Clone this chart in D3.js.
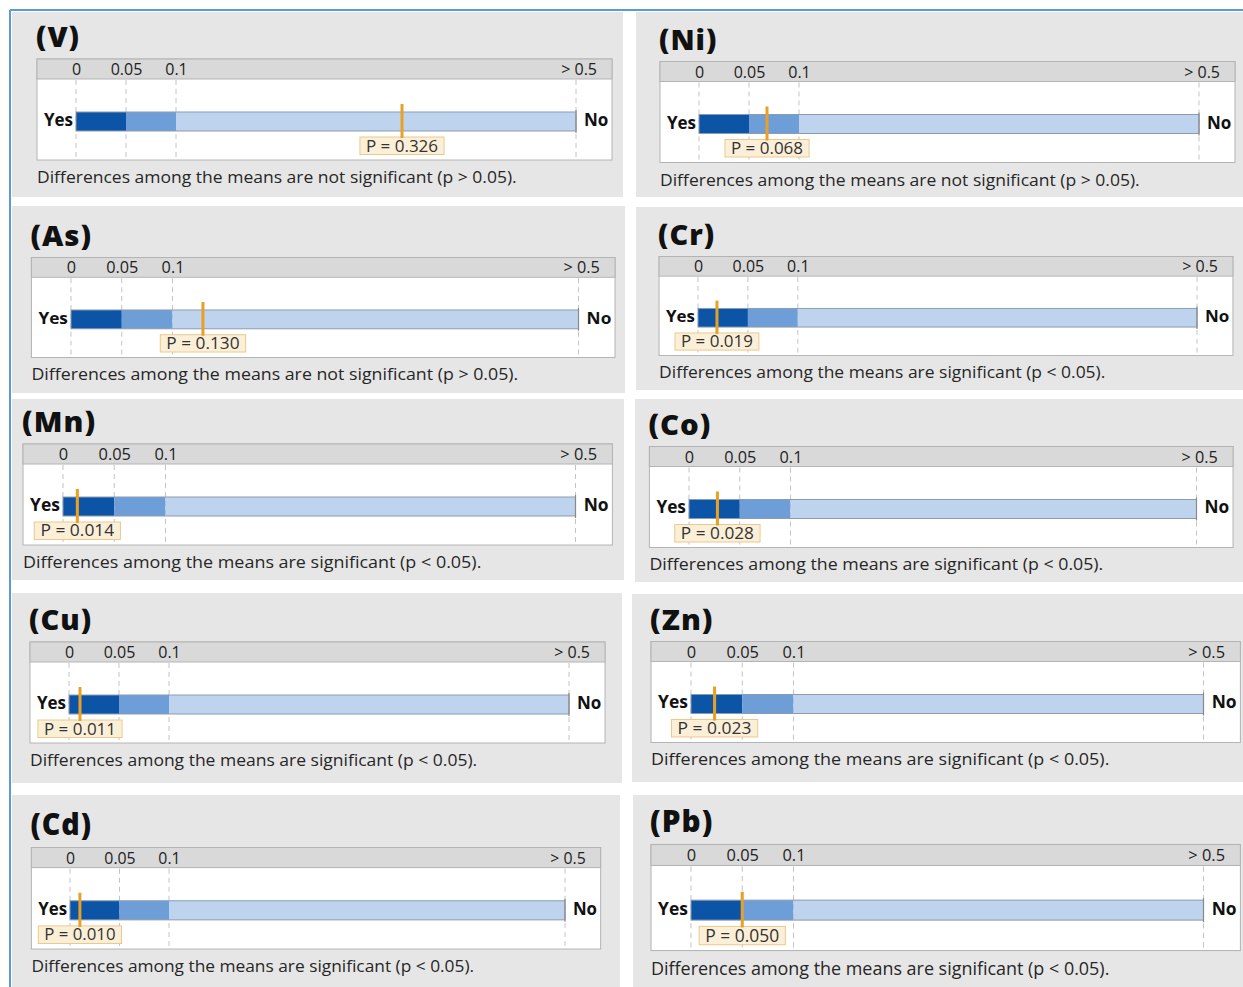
<!DOCTYPE html>
<html>
<head>
<meta charset="utf-8">
<script src="https://cdn.jsdelivr.net/npm/d3@7"></script>
<style>
  body { margin: 0; background: #fff; }
  svg { display: block; }
  text { font-family: 'Open Sans', 'Noto Sans', sans-serif; }
</style>
</head>
<body>
<svg id="chart" width="1243" height="987"></svg>
<script>
// ---- data ----
const elements = ["V", "Ni", "As", "Cr", "Mn", "Co", "Cu", "Zn", "Cd", "Pb"];
const pValues  = [0.326, 0.068, 0.130, 0.019, 0.014, 0.028, 0.011, 0.023, 0.010, 0.050];
const verdicts = [
  "not significant (p > 0.05)", "not significant (p > 0.05)",
  "not significant (p > 0.05)", "significant (p < 0.05)",
  "significant (p < 0.05)",     "significant (p < 0.05)",
  "significant (p < 0.05)",     "significant (p < 0.05)",
  "significant (p < 0.05)",     "significant (p < 0.05)"
];
const tickValues = [0, 0.05, 0.1];
const tickLabels = ["0", "0.05", "0.1"];
const scaleMax   = 0.5;
const maxLabel   = "> 0.5";
const zoneEdges  = [0, 0.05, 0.1, 0.5];
const yesLabel = "Yes", noLabel = "No";

// ---- layout ----
// grey panel backgrounds: x, y, width, height
const panelBoxes = [
  [12, 12, 611, 185], [636, 12, 607, 185],
  [12, 206, 613, 187], [636, 207, 607, 183],
  [12, 399, 612, 181], [635, 399, 608, 183],
  [12, 593, 610, 190], [632, 594, 611, 188],
  [12, 795, 608, 192], [633, 795, 610, 192]
];
// pixel position of p = 0 and top of the scale band for each panel
const plotOrigins = [
  [76, 59], [699, 61.5],
  [71, 257.5], [698, 256.5],
  [63, 444], [689, 446.5],
  [69, 642], [691, 641.5],
  [70, 847.5], [691, 844.5]
];
// horizontal / vertical scale of each panel's drawing
const plotScales = [
  [1.0, 1.0], [1.0, 1.0],
  [1.015, 0.99], [0.998, 0.98],
  [1.025, 1.0], [1.015, 1.0],
  [1.0, 1.0], [1.025, 1.0],
  [0.99, 1.005], [1.025, 1.05]
];

const BOX_W = 575, BAND_H = 20, BOX_H = 101;
const X0 = 39, X1 = 539;
const BAR_Y = 53, BAR_H = 19;
const TAG_GAP = 6, TAG_H = 17.5;
const zoneColors = ["#0c54a5", "#6e9ed8", "#bed4ee"];
const fmt = d3.format(".3f");

const svg = d3.select("#chart");

// page frame
svg.append("line").attr("x1", 10).attr("y1", 10).attr("x2", 1243).attr("y2", 10)
  .attr("stroke", "#5b9bd5").attr("stroke-width", 2);
svg.append("line").attr("x1", 10).attr("y1", 10).attr("x2", 10).attr("y2", 987)
  .attr("stroke", "#5b9bd5").attr("stroke-width", 2);

const x = d3.scaleLinear().domain([0, scaleMax]).range([X0, X1]);

elements.forEach((el, i) => {
  const [px, py, pw, ph] = panelBoxes[i];
  svg.append("rect").attr("x", px).attr("y", py).attr("width", pw).attr("height", ph)
    .attr("fill", "#e6e6e6");

  const [ox, oy] = plotOrigins[i];
  const [sx, sy] = plotScales[i];
  const g = svg.append("g")
    .attr("transform", `translate(${ox - X0 * sx},${oy}) scale(${sx},${sy})`);

  // title
  g.append("text").attr("x", -1).attr("y", -12)
    .attr("font-size", 29).attr("font-weight", 800).attr("letter-spacing", 1)
    .attr("fill", "#111").text(`(${el})`);

  // scale box and header band
  g.append("rect").attr("x", 0).attr("y", 0).attr("width", BOX_W).attr("height", BOX_H)
    .attr("fill", "#fff").attr("stroke", "#b4b4b4");
  g.append("rect").attr("x", 0).attr("y", 0).attr("width", BOX_W).attr("height", BAND_H)
    .attr("fill", "#d9d9d9").attr("stroke", "#b4b4b4");

  // tick labels in the band
  const axis = g.append("g").attr("transform", `translate(0,16)`)
    .call(d3.axisTop(x).tickValues(tickValues)
      .tickFormat((d, j) => tickLabels[j]).tickSize(0).tickPadding(0));
  axis.select(".domain").remove();
  axis.attr("font-size", 16).attr("font-family", "'Open Sans', sans-serif");
  axis.selectAll("text").attr("fill", "#222").attr("dy", 0);
  g.append("text").attr("x", x(scaleMax) + 21).attr("y", 16)
    .attr("text-anchor", "end").attr("font-size", 16).attr("fill", "#222").text(maxLabel);

  // dashed guides
  g.selectAll(".guide").data(zoneEdges).join("line").attr("class", "guide")
    .attr("x1", d => x(d)).attr("x2", d => x(d))
    .attr("y1", BAND_H + 1).attr("y2", BOX_H - 1)
    .attr("stroke", "#c4c4c4").attr("stroke-dasharray", "5,4");

  // coloured zones of the bar
  const zones = d3.pairs(zoneEdges);
  g.selectAll(".zone").data(zones).join("rect").attr("class", "zone")
    .attr("x", d => x(d[0])).attr("width", d => x(d[1]) - x(d[0]))
    .attr("y", BAR_Y).attr("height", BAR_H)
    .attr("fill", (d, j) => zoneColors[j]);
  g.append("rect").attr("x", x(0)).attr("y", BAR_Y)
    .attr("width", x(scaleMax) - x(0)).attr("height", BAR_H)
    .attr("fill", "none").attr("stroke", "#8d9bb0").attr("stroke-width", 1);
  g.append("line").attr("x1", x(scaleMax)).attr("x2", x(scaleMax))
    .attr("y1", BAR_Y - 2).attr("y2", BAR_Y + BAR_H + 2)
    .attr("stroke", "#8a8a8a").attr("stroke-width", 1.2);

  // Yes / No
  const labelY = BAR_Y + BAR_H / 2 + 4.5;
  g.append("text").attr("x", x(0) - 3).attr("y", labelY).attr("text-anchor", "end")
    .attr("font-size", 17).attr("font-weight", 700).attr("fill", "#111").text(yesLabel);
  g.append("text").attr("x", x(scaleMax) + 8).attr("y", labelY)
    .attr("font-size", 17).attr("font-weight", 700).attr("fill", "#111").text(noLabel);

  // p-value tag and marker
  const p = pValues[i];
  const tagTop = BAR_Y + BAR_H + TAG_GAP;
  const tag = g.append("g");
  const tagRect = tag.append("rect");
  const tagText = tag.append("text").attr("x", x(p)).attr("y", tagTop + 14.5)
    .attr("text-anchor", "middle").attr("font-size", 17).attr("fill", "#333")
    .text(`P = ${fmt(p)}`);
  const tw = tagText.node().getComputedTextLength();
  tagRect.attr("x", x(p) - tw / 2 - 6).attr("width", tw + 12)
    .attr("y", tagTop).attr("height", TAG_H)
    .attr("fill", "#fcefd8").attr("stroke", "#ebc98c").attr("stroke-width", 1);
  g.append("line").attr("x1", x(p)).attr("x2", x(p))
    .attr("y1", BAR_Y - 8).attr("y2", tagTop + 1)
    .attr("stroke", "#e8a025").attr("stroke-width", 3);

  // verdict line
  const caption = `Differences among the means are ${verdicts[i]}.`;
  g.append("text").attr("x", 0).attr("y", 124)
    .attr("font-size", 17).attr("fill", "#262626")
    .attr("textLength", caption.length * 8.13).attr("lengthAdjust", "spacingAndGlyphs")
    .text(caption);
});
</script>
</body>
</html>
